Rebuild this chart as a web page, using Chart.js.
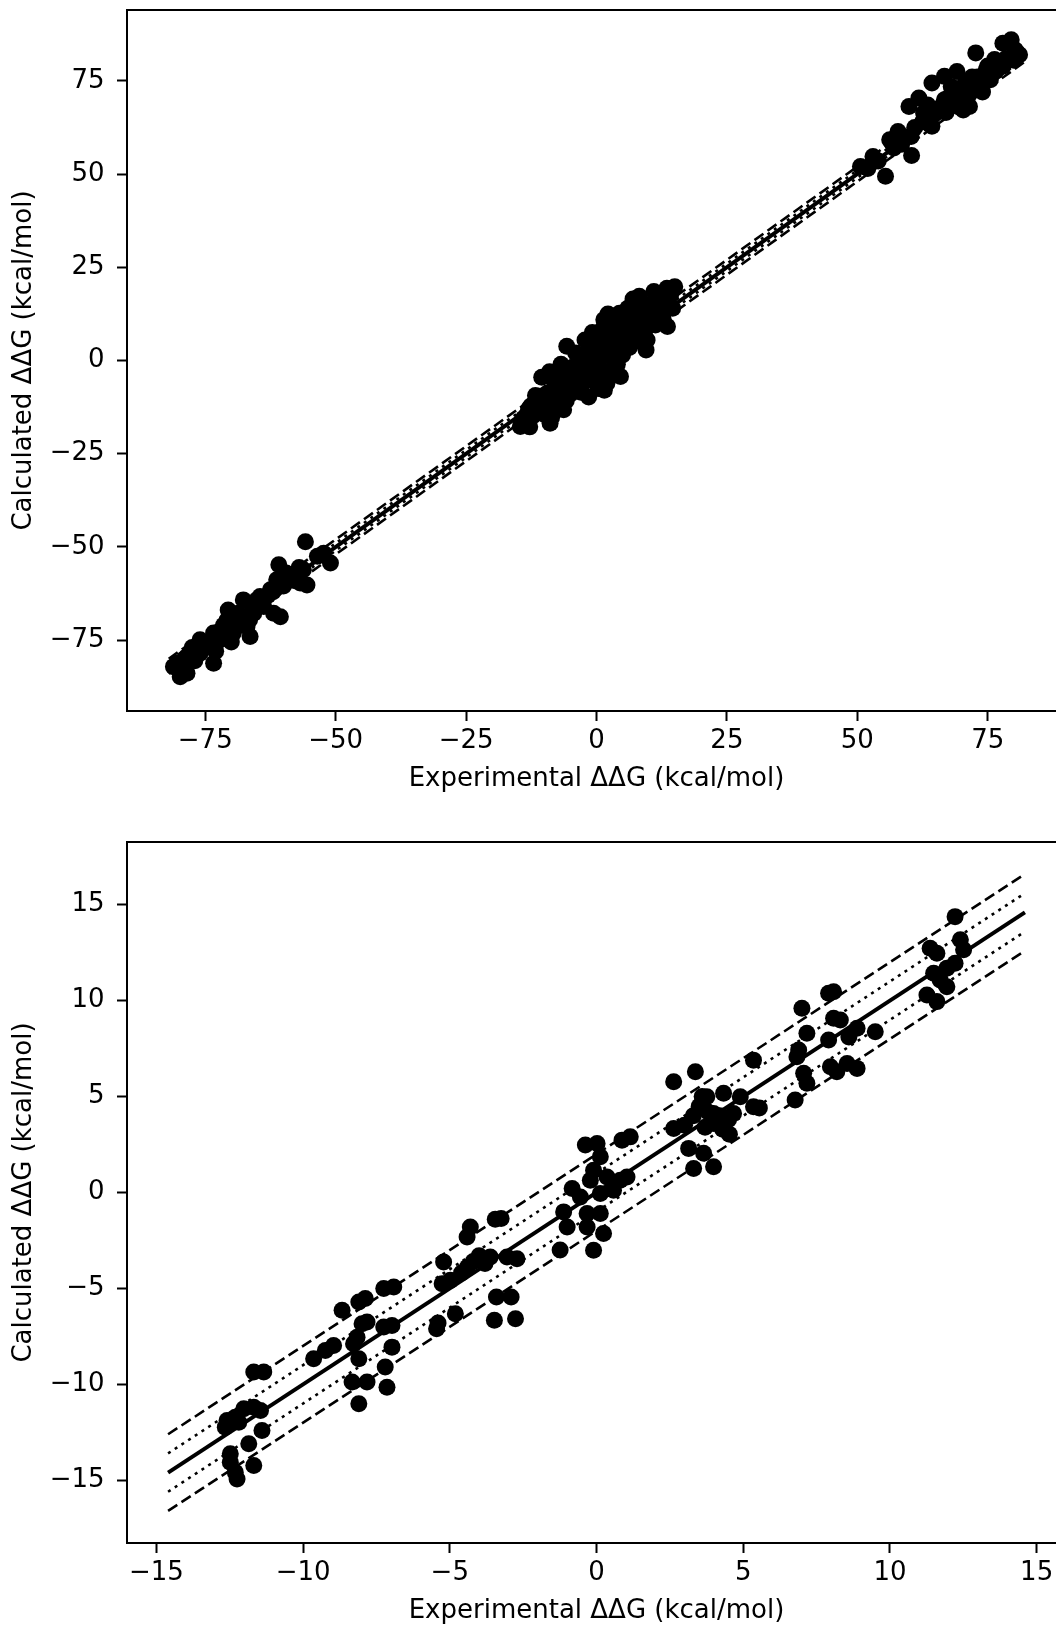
<!DOCTYPE html>
<html>
<head>
<meta charset="utf-8">
<script src="https://cdn.jsdelivr.net/npm/chart.js@4.4.1/dist/chart.umd.min.js"></script>
<style>
  html, body { margin: 0; padding: 0; background: #fff; overflow: hidden; }
  #page { position: relative; width: 1056px; height: 1627px; overflow: hidden; }
  .panel { position: absolute; left: 0; width: 1100px; height: 800px; }
</style>
</head>
<body>
<div id="page">
  <div class="panel" style="top:0"><canvas id="chartAll"></canvas></div>
  <div class="panel" style="top:832px"><canvas id="chartZoom"></canvas></div>
</div>
<script>
// upper panel: full set, incl. the two far clusters
const allExp = [
  -14.6, -13.8, -13.3, -12.6, -12.2, -11.7, -11.4, -10.8, -9.8, -9.4, -8.9, -8.6, -8.2, -8.0, -7.6,
  -7.2, -7.0, -6.3, -6.1, -5.7, -5.5, -5.2, -4.8, -4.6, -4.2, -3.6, -3.4, -2.8, -2.5, -2.0,
  -1.5, -1.5, -1.0, -0.5, 0.0, 0.2, 0.5, 0.8, 1.2, 1.4, 1.8, 2.0, 2.5, 2.8, 3.2,
  3.5, 3.9, 4.4, 4.6, 5.0, 5.3, 5.8, 6.3, 6.8, 7.3, 7.8, 8.2, 8.5, 8.8, 9.2,
  9.7, 10.2, 10.8, 11.3, 11.8, 12.3, 12.8, 13.5, 13.6, 14.2, 15.0, 14.6, -10.5, -9.0, -6.8,
  -4.0, -2.2, -0.8, 0.3, 1.5, -3.0, -5.8, -10.0, 6.0, 7.0, 11.0, 9.5, 4.0, 2.2, -12.8,
  -14.0, -13.0, -11.0, -10.5, -9.5, -8.5, -7.5, -6.5, -5.0, -4.0, -3.5, -2.5, -1.8, -0.5, 0.5,
  1.0, 2.0, 3.0, 4.2, 5.5, 6.5, 7.5, 9.0, 10.5, 12.0, 13.0, 2.5, -6.8,
  55.4, 60.4, 50.6, 53.0, 56.2, 57.8, 60.3, 59.9, 61.8, 64.3, 65.1, 66.7, 64.3, 66.7, 69.1,
  70.3, 71.5, 72.7, 74.7, 76.3, 77.9, 79.5, 80.3, 81.1, 73.1, 68.3, 62.7, 70.7, 75.5, 77.9,
  72.0, 74.0, 68.0, 63.5, 58.5, 52.0, 54.0, 57.0, 59.0, 61.0, 62.5, 64.0, 66.0, 67.5, 69.0,
  70.0, 71.5, 73.0, 75.0, 76.5, 78.5, 80.0, 69.5, 67.0,
  -55.8, -60.9, -52.3, -51.0, -56.2, -56.8, -55.5, -61.3, -62.5, -64.5, -65.1, -60.6, -61.9, -70.6, -68.7,
  -70.8, -67.0, -69.6, -66.4, -72.1, -73.4, -78.5, -79.8, -81.1, -76.0, -78.5, -73.4, -65.7, -63.8, -67.7,
  -76.0, -80.4, -58.5, -63.0, -71.5, -75.0, -77.5, -79.0, -77.0, -75.5, -74.0, -72.5, -71.0, -69.0, -68.0,
  -66.0, -64.0, -62.0, -60.0, -58.0, -57.0, -53.5, -59.5, -66.5, -70.0, -73.0
];
const allCalc = [
  -17.7, -16.2, -14.5, -12.2, -14.9, -9.4, -11.3, -13.0, -10.6, -8.7, -16.8, -15.2, -11.0, -6.1, -8.3,
  -10.2, -5.0, -13.2, -7.5, 3.8, -7.0, -3.6, -6.3, -1.8, -4.0, -3.4, -5.5, -6.5, 1.0, -2.2,
  3.0, -9.8, -3.0, 0.5, 2.5, -1.5, 5.0, -4.5, 8.5, 10.9, 1.5, -6.1, 6.0, 3.0, -2.0,
  9.5, 4.5, 12.7, -4.3, 1.5, 7.5, 10.5, 3.5, 6.0, 12.0, 9.0, 17.2, 5.0, 14.5, 7.5,
  5.5, 11.5, 15.5, 9.5, 13.0, 16.5, 11.0, 19.4, 9.1, 17.5, 19.8, 14.0, -4.5, -3.0, -1.0,
  2.0, 5.5, 7.5, -7.5, -8.0, -8.5, -10.8, -14.5, 14.0, 16.5, 18.5, 2.8, -1.0, 12.5, -17.8,
  -15.5, -13.0, -12.0, -9.5, -12.5, -9.0, -12.0, -5.5, -9.0, -7.0, -1.5, -4.5, 0.5, -5.5, 3.5,
  -2.5, 8.0, 6.5, 8.0, 4.5, 9.0, 7.0, 11.0, 13.5, 14.5, 17.0, -3.5, -9.5,
  49.4, 55.0, 52.0, 54.7, 59.2, 61.4, 60.1, 68.1, 70.4, 62.8, 66.4, 69.9, 74.4, 76.2, 77.5,
  67.2, 68.1, 82.5, 78.0, 80.7, 85.1, 86.0, 83.3, 82.0, 73.5, 71.7, 66.4, 74.4, 75.3, 78.9,
  76.0, 72.0, 73.5, 68.5, 58.0, 51.5, 53.5, 57.0, 60.0, 62.5, 64.0, 65.0, 68.0, 70.5, 71.0,
  73.0, 71.5, 76.0, 79.0, 77.5, 81.0, 80.5, 68.0, 66.5,
  -48.6, -54.8, -51.7, -54.3, -56.1, -59.7, -60.2, -58.8, -61.5, -63.3, -64.2, -68.7, -67.8, -66.9, -67.8,
  -69.6, -71.4, -73.1, -74.0, -74.9, -81.2, -83.9, -84.8, -82.1, -78.5, -79.4, -73.1, -67.8, -66.0, -64.2,
  -74.9, -81.2, -57.5, -63.0, -71.0, -76.5, -77.0, -80.0, -80.5, -77.0, -76.0, -73.0, -72.5, -70.0, -69.5,
  -66.0, -65.5, -62.0, -60.5, -59.0, -55.5, -52.5, -57.0, -69.5, -75.5, -78.0
];

// lower panel: the close-up set
const zoomExp = [
  -12.59, -12.31, -12.02, -11.68, -11.45, -12.65, -12.19, -11.68, -11.34, -11.40, -11.85, -12.48, -12.48, -11.68, -12.25, -12.31,
  -9.64, -9.24, -8.96, -8.67, -8.10, -7.88, -7.25, -6.91, -7.99, -7.82, -7.25, -6.97, -8.16, -8.28, -8.10, -6.97,
  -8.33, -7.82, -8.10, -7.20, -7.14,
  -5.21, -5.26, -4.98, -4.81, -5.45, -5.40, -4.60, -4.40, -4.20, -4.00, -3.80, -4.30, -4.41, -3.45, -3.25, -3.62,
  -3.05, -2.71, -3.41, -2.91, -3.48, -2.76,
  -1.24, -0.10, -1.12, -1.00, -0.32, 0.13, -0.32, 0.24, -0.83, -0.10, 0.13, -0.38, 0.02, 0.87, 1.15, -0.21,
  0.36, 0.81, 1.04, 0.58, 0.13, -0.55,
  2.63, 3.37, 3.31, 3.99, 3.14, 3.65, 2.63, 3.00, 3.30, 3.50, 3.60, 3.80, 4.00, 4.20, 4.50, 4.30,
  3.70, 4.53, 4.33, 4.90, 5.35, 3.76, 3.99, 4.67, 5.55, 5.35, 6.77,
  7.00, 7.91, 8.08, 8.08, 8.31, 8.88, 9.50, 7.17, 7.91, 6.89, 6.83, 7.06, 7.17, 7.97, 8.19, 8.54,
  8.88, 8.60,
  12.22, 11.37, 11.60, 12.40, 12.51, 12.22, 11.94, 11.49, 11.71, 11.94, 11.26, 11.60
];
const zoomCalc = [
  -11.88, -11.71, -11.27, -11.19, -11.36, -12.23, -11.97, -9.36, -9.36, -12.41, -13.10, -13.62, -14.06, -14.23, -14.93, -14.58,
  -8.66, -8.23, -7.97, -6.14, -5.71, -5.53, -5.01, -4.93, -6.84, -6.75, -7.01, -6.93, -7.54, -7.88, -8.66, -8.06,
  -9.88, -9.88, -11.01, -9.10, -10.15,
  -3.62, -4.75, -4.58, -6.32, -7.10, -6.80, -4.20, -3.90, -3.60, -3.30, -3.70, -1.80, -2.32, -1.40, -1.35, -3.36,
  -3.36, -3.45, -5.45, -5.45, -6.66, -6.58,
  -3.00, -3.01, -1.01, -1.80, -1.10, -1.10, -1.80, -2.14, 0.21, 1.16, 1.86, 2.47, 2.56, 2.73, 2.90, 0.64,
  0.81, 0.64, 0.81, 0.12, -0.05, -0.23,
  5.77, 6.29, 1.25, 1.34, 2.30, 2.04, 3.34, 3.50, 4.00, 4.50, 5.00, 4.20, 3.60, 4.00, 3.80, 3.30,
  3.40, 3.04, 5.17, 4.99, 4.47, 4.99, 4.12, 4.12, 4.40, 6.90, 4.82,
  9.60, 10.39, 10.47, 9.08, 8.99, 8.56, 8.38, 8.30, 7.95, 7.43, 7.08, 6.21, 5.69, 6.55, 6.29, 6.73,
  6.47, 8.10,
  14.38, 12.73, 12.47, 13.17, 12.65, 11.95, 11.69, 11.43, 11.08, 10.73, 10.30, 9.95
];

const allTicks = [-75, -50, -25, 0, 25, 50, 75];
const zoomTicks = [-15, -10, -5, 0, 5, 10, 15];

// axis limits and the span of the reference lines
const allXRange = [-90, 90];
const allYRange = [-94, 94];
const zoomXRange = [-16, 16];
const zoomYRange = [-18.27, 18.27];
const allLineSpan = [-82, 82];
const zoomLineSpan = [-14.6, 14.6];

// y = x, +/-1 (dotted), +/-2 (dashed)
const lineOffsets = [0, 1, -1, 2, -2];

const FONT = "'DejaVu Sans', sans-serif";

const framePlugin = {
  id: "frame",
  afterDraw(chart) {
    const a = chart.chartArea;
    const ctx = chart.ctx;
    ctx.save();
    ctx.strokeStyle = "#000";
    ctx.lineWidth = 2;
    ctx.strokeRect(a.left, a.top, a.right - a.left, a.bottom - a.top);
    ctx.restore();
  },
};

function fmt(v) {
  return v < 0 ? "\u2212" + Math.abs(v) : String(v);
}

function buildChart(id, xs, ys, span, xRange, yRange, ticks) {
  const el = document.getElementById(id);
  if (!el) {
    console.error("Canvas element #" + id + " not found!");
    return;
  }

  const lines = lineOffsets.map((off) => ({
    type: "line",
    data: span.map((x) => ({ x: x, y: x + off })),
    borderColor: "#000",
    borderWidth: off === 0 ? 4 : 2.6,
    borderDash: off === 0 ? [] : Math.abs(off) === 1 ? [3, 5] : [11, 5],
    pointRadius: 0,
    fill: false,
    order: 0,
  }));

  const points = {
    type: "scatter",
    data: xs.map((x, i) => ({ x: x, y: ys[i] })),
    backgroundColor: "#000",
    borderWidth: 0,
    pointRadius: 8.5,
    pointHoverRadius: 8.5,
    order: 1,
  };

  const tickFont = { family: FONT, size: 26 };

  new Chart(el.getContext("2d"), {
    type: "scatter",
    data: { datasets: [points].concat(lines) },
    plugins: [framePlugin],
    options: {
      responsive: true,
      maintainAspectRatio: false,
      animation: false,
      layout: { padding: { top: 10, right: 34, bottom: 0, left: 0 } },
      plugins: { legend: { display: false }, tooltip: { enabled: false } },
      scales: {
        x: {
          type: "linear",
          min: xRange[0],
          max: xRange[1],
          afterBuildTicks: (s) => { s.ticks = ticks.map((v) => ({ value: v })); },
          afterFit: (s) => { s.height = 89; s.paddingLeft = 0; s.paddingRight = 0; },
          ticks: { callback: fmt, color: "#000", font: tickFont, padding: 4.5, maxRotation: 0 },
          grid: { drawOnChartArea: false, drawTicks: true, tickLength: 10, tickWidth: 2, tickColor: "#000" },
          border: { display: false },
          title: {
            display: true,
            text: "Experimental \u0394\u0394G (kcal/mol)",
            color: "#000",
            font: tickFont,
            padding: { top: 0, bottom: 5 },
          },
        },
        y: {
          type: "linear",
          min: yRange[0],
          max: yRange[1],
          afterBuildTicks: (s) => { s.ticks = ticks.map((v) => ({ value: v })); },
          afterFit: (s) => { s.width = 127; s.paddingTop = 0; s.paddingBottom = 0; },
          ticks: { callback: fmt, color: "#000", font: tickFont, padding: 12.5 },
          grid: { drawOnChartArea: false, drawTicks: true, tickLength: 10, tickWidth: 2, tickColor: "#000" },
          border: { display: false },
          title: {
            display: true,
            text: "Calculated \u0394\u0394G (kcal/mol)",
            color: "#000",
            font: tickFont,
            padding: { top: 8.5, bottom: 0 },
          },
        },
      },
    },
  });
}

window.onload = function () {
  buildChart("chartAll", allExp, allCalc, allLineSpan, allXRange, allYRange, allTicks);
  buildChart("chartZoom", zoomExp, zoomCalc, zoomLineSpan, zoomXRange, zoomYRange, zoomTicks);
};
</script>
</body>
</html>
